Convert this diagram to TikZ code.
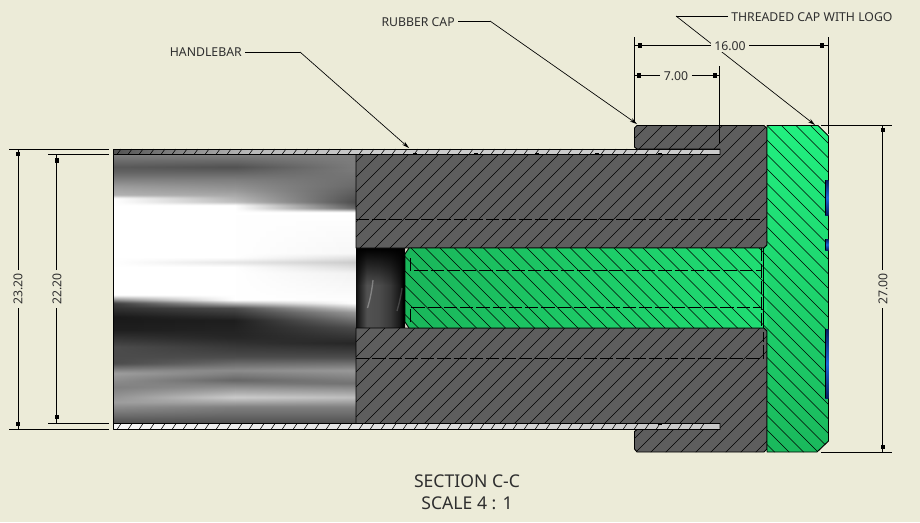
\documentclass[tikz,border=0pt]{standalone}
\usepackage{fontspec}
\setmainfont{Noto Sans}
\usetikzlibrary{arrows.meta,fadings}
\definecolor{bgc}{HTML}{ECEBD8}
\definecolor{dimc}{HTML}{2E2E2E}
\definecolor{darkc}{HTML}{5E5E5E}
\pgfdeclareverticalshading{boreL}{100bp}{gray(0bp)=(0.3);gray(25bp)=(0.3);gray(26.2bp)=(0.40);gray(29bp)=(0.62);gray(31.8bp)=(0.50);gray(34.4bp)=(0.62);gray(36.2bp)=(0.30);gray(39.2bp)=(0.30);gray(42.4bp)=(0.12);gray(44.8bp)=(0.10);gray(47.4bp)=(0.25);gray(48.9bp)=(1);gray(66.9bp)=(1);gray(67.5bp)=(0.70);gray(69bp)=(0.62);gray(71.6bp)=(0.40);gray(72.7bp)=(0.35);gray(75bp)=(0.50);gray(100bp)=(0.50)}
\pgfdeclareverticalshading{boreM}{100bp}{gray(0bp)=(0.3);gray(25bp)=(0.3);gray(25.65bp)=(0.35);gray(28.1bp)=(0.50);gray(29.9bp)=(0.80);gray(33.1bp)=(0.40);gray(34.9bp)=(0.55);gray(37.4bp)=(0.30);gray(41.1bp)=(0.15);gray(44.2bp)=(0.12);gray(46.5bp)=(0.30);gray(48bp)=(1);gray(54.1bp)=(1);gray(55bp)=(0.90);gray(55.9bp)=(1);gray(65.6bp)=(1);gray(66.2bp)=(0.75);gray(68.4bp)=(0.60);gray(70.3bp)=(0.50);gray(72.7bp)=(0.32);gray(75bp)=(0.50);gray(100bp)=(0.50)}
\pgfdeclareverticalshading{boreR}{100bp}{gray(0bp)=(0.3);gray(25bp)=(0.3);gray(25.65bp)=(0.35);gray(28.1bp)=(0.50);gray(29.9bp)=(0.75);gray(32.5bp)=(0.45);gray(34.9bp)=(0.60);gray(37.4bp)=(0.30);gray(40bp)=(0.15);gray(42.9bp)=(0.30);gray(45.7bp)=(0.60);gray(47.4bp)=(1);gray(53bp)=(0.95);gray(55bp)=(0.80);gray(56.7bp)=(0.97);gray(64.3bp)=(1);gray(65.05bp)=(0.40);gray(66.2bp)=(0.30);gray(67.5bp)=(0.35);gray(69.3bp)=(0.42);gray(72.1bp)=(0.48);gray(75bp)=(0.50);gray(100bp)=(0.50)}
\pgfdeclarehorizontalshading{recess}{100bp}{gray(0bp)=(0.06);gray(25bp)=(0.06);gray(36bp)=(0.32);gray(48bp)=(0.30);gray(60bp)=(0.22);gray(69bp)=(0.10);gray(73bp)=(0);gray(100bp)=(0)}
\pgfdeclareverticalshading{logoS}{100bp}{rgb(0bp)=(0.03,0.13,0.40);rgb(25bp)=(0.03,0.13,0.40);rgb(50bp)=(0.10,0.40,0.85);rgb(75bp)=(0.03,0.13,0.40);rgb(100bp)=(0.03,0.13,0.40)}
\tikzset{
  x=0.75pt,y=-0.75pt,
  dimline/.style={draw=black,line width=0.7pt},
  leader/.style={draw=black,line width=0.5pt},
  leadertip/.style={leader,-{Stealth[length=5.5pt,width=3pt]}},
  edge/.style={draw=black,line width=0.7pt,line join=round},
  hatchline/.style={draw=black,line width=0.42pt},
  dashline/.style={draw=black,line width=0.55pt,dash pattern=on 10pt off 2.2pt},
  lab/.style={text=dimc,font=\fontsize{9.2}{11}\selectfont,inner sep=0pt},
  dimlab/.style={lab,fill=bgc,inner xsep=2.5pt,inner ysep=1pt},
  title/.style={text=dimc,font=\fontsize{13.2}{15}\selectfont,inner sep=0pt},
}
\newcommand{\tickblock}[2]{\fill[black] (#1-2,#2-2.2) rectangle (#1+2,#2+2.2);}
\begin{document}
\begin{tikzpicture}
\useasboundingbox (0,0) rectangle (920,522);
\fill[bgc] (0,0) rectangle (920,522);
% bore of the handlebar
\path[shading=boreL] (113.5,154.5) rectangle (235,423.5);
\path[shading=boreM,path fading=west] (113.5,154.5) rectangle (235,423.5);
\path[shading=boreM] (235,154.5) rectangle (356,423.5);
\path[shading=boreR,path fading=west] (235,154.5) rectangle (356,423.5);
% handlebar walls
\path[left color=black!68,right color=black!20,middle color=black!28] (113.5,149) rectangle (380,154.5);
\fill[black!20] (380,149) rectangle (720,154.5);
\path[left color=black!3,right color=black!22] (113.5,423.5) rectangle (720,429.5);
\foreach \x in {117,128,...,710} {
  \draw[hatchline] (\x,154.5) -- (\x+4,149);
  \draw[hatchline] (\x,429.5) -- (\x+4,423.5);
}
\draw[edge] (113.5,154.5) -- (113.5,149) -- (720,149) -- (720,154.5) -- cycle;
\draw[edge] (113.5,423.5) -- (113.5,429.5) -- (720,429.5) -- (720,423.5) -- cycle;
\draw[edge] (113.5,154.5) -- (113.5,423.5);
\foreach \x in {415,476,537,597,660} {\draw[black,line width=0.9pt] (\x-2,154) -- (\x+2,154);}
\foreach \x in {660} {\draw[black,line width=0.9pt] (\x-2,424) -- (\x+2,424);}
% recess
\path[shading=recess] (356,248) rectangle (405,328);
\path[fill=black,path fading=south] (356,248) rectangle (405,285);
\draw[white,opacity=0.30,line width=1pt] (373,280) .. controls (372,290) and (370,300) .. (367.5,308);
\draw[white,opacity=0.18,line width=1pt] (402,288) .. controls (401,296) and (399,304) .. (397,311);
% rubber cap
\def\upperbody{(356,154.5) -- (720,154.5) -- (720,149) -- (637,149) -- (634.5,147) -- (634.5,128) -- (637,125.5) -- (764,125.5) -- (767,128.5) -- (767,245) -- (764,248) -- (356,248) -- cycle}
\def\lowerbody{(356,328) -- (764,328) -- (767,331) -- (767,449) -- (764,452) -- (637,452) -- (634.5,449) -- (634.5,431.5) -- (637,429.5) -- (720,429.5) -- (720,423.5) -- (356,423.5) -- cycle}
\fill[darkc] \upperbody;
\fill[darkc] \lowerbody;
\begin{scope}
\clip \upperbody;
\foreach \c in {488,503,...,1220} {\draw[hatchline] (\c-100,100) -- (\c-300,300);}
\end{scope}
\begin{scope}
\clip \lowerbody;
\foreach \c in {488,503,...,1220} {\draw[hatchline] (\c-320,320) -- (\c-460,460);}
\end{scope}
\draw[edge] \upperbody;
\draw[edge] \lowerbody;
% threaded cap
\def\capbody{(767,125.5) -- (818,125.5) -- (828.5,136) -- (828.5,441) -- (817,452) -- (767,452) -- cycle}
\def\corebody{(767,245) -- (764,248) -- (409,248) -- (405,254) -- (405,322) -- (409,328) -- (764,328) -- (767,331) -- cycle}
\path[shading=axis,top color={rgb,255:red,34;green,240;blue,128},bottom color={rgb,255:red,26;green,184;blue,92}] \capbody;
\path[shading=axis,left color={rgb,255:red,26;green,182;blue,90},right color={rgb,255:red,32;green,222;blue,116},shading angle=90] \corebody;
\begin{scope}
\clip (767,125.5) -- (818,125.5) -- (828.5,136) -- (828.5,441) -- (817,452) -- (767,452) -- (767,331) -- (764,328) -- (409,328) -- (405,322) -- (405,254) -- (409,248) -- (764,248) -- (767,245) -- cycle;
\foreach \c in {-40,-25.5,...,710} {\draw[hatchline] (\c+100,100) -- (\c+480,480);}
\end{scope}
\draw[edge] (767,125.5) -- (818,125.5) -- (828.5,136) -- (828.5,441) -- (817,452) -- (767,452) -- (767,331) -- (764,328) -- (409,328) -- (405,322) -- (405,254) -- (409,248) -- (764,248) -- (767,245) -- cycle;
\draw[black,line width=0.5pt] (763,248) -- (763,328);
% logo inlays
\foreach \ya/\yb in {180/215,239/250,329/398} {
  \path[shading=logoS] (825,\ya) rectangle (828.5,\yb);
  \draw[black,line width=0.6pt] (825,\ya) -- (825,\yb);
}
% hidden lines
\draw[dashline] (356,219) -- (763,219);
\draw[dashline] (356,358) -- (763,358) -- (763,332);
\draw[dashline] (410,258) -- (410,270) -- (761.5,270);
\draw[dashline] (410,322) -- (410,307) -- (761.5,307);
\draw[dashline] (761,248) -- (761,328);
% leaders
\node[lab,anchor=west] (threaded) at (731,17) {THREADED CAP WITH LOGO};
\coordinate (thA) at (676,16);
\coordinate (thT) at (815,125);
\draw[leader] (threaded.west |- thA) ++(-3,0) -- (thA);
\draw[leadertip] (thA) -- (thT);
\node[lab,anchor=east] (rubber) at (455,22) {RUBBER CAP};
\coordinate (ruA) at (490,21);
\coordinate (ruT) at (637,124);
\draw[leader] (rubber.east |- ruA) ++(3,0) -- (ruA);
\draw[leadertip] (ruA) -- (ruT);
\node[lab,anchor=east] (handle) at (242,52) {HANDLEBAR};
\coordinate (haA) at (300,52);
\coordinate (haT) at (409,148);
\draw[leader] (handle.east) ++(3,0) -- (haA);
\draw[leadertip] (haA) -- (haT);
% dimension 16.00
\coordinate (e1a) at (634.5,37); \coordinate (e1b) at (634.5,122);
\coordinate (e2a) at (828.5,37); \coordinate (e2b) at (828.5,134);
\coordinate (e3a) at (719.5,66); \coordinate (e3b) at (719.5,143);
\draw[dimline] (e1a) -- (e1b);
\draw[dimline] (e2a) -- (e2b);
\draw[dimline] (e3a) -- (e3b);
\node[dimlab] (d16) at (730,46) {16.00};
\coordinate (d16l) at (634.5,45.5); \coordinate (d16r) at (828.5,45.5);
\draw[dimline] (d16.west |- d16l) -- (d16l);
\draw[dimline] (d16.east |- d16r) -- (d16r);
\tickblock{640}{45.5}\tickblock{822}{45.5}
% dimension 7.00
\node[dimlab] (d7) at (676,76) {7.00};
\coordinate (d7l) at (634.5,75.5); \coordinate (d7r) at (719.5,75.5);
\draw[dimline] (d7.west |- d7l) -- (d7l);
\draw[dimline] (d7.east |- d7r) -- (d7r);
\tickblock{639}{75.5}\tickblock{715}{75.5}
% dimension 27.00
\coordinate (t1a) at (821,125.5); \coordinate (t1b) at (892,125.5);
\coordinate (t2a) at (821,452); \coordinate (t2b) at (892,452);
\draw[dimline] (t1a) -- (t1b);
\draw[dimline] (t2a) -- (t2b);
\node[dimlab,rotate=90] (d27) at (883,289) {27.00};
\coordinate (d27t) at (882.5,125.5); \coordinate (d27b) at (882.5,452);
\draw[dimline] (d27t |- d27.east) -- (d27t);
\draw[dimline] (d27b |- d27.west) -- (d27b);
\tickblock{882.5}{130}\tickblock{882.5}{447}
% dimension 23.20
\coordinate (a1a) at (9,149); \coordinate (a1b) at (109,149);
\coordinate (a2a) at (9,429.5); \coordinate (a2b) at (109,429.5);
\draw[dimline] (a1a) -- (a1b);
\draw[dimline] (a2a) -- (a2b);
\node[dimlab,rotate=90] (d232) at (18,289) {23.20};
\coordinate (d232t) at (18,149); \coordinate (d232b) at (18,429.5);
\draw[dimline] (d232t |- d232.east) -- (d232t);
\draw[dimline] (d232b |- d232.west) -- (d232b);
\tickblock{18}{154}\tickblock{18}{424}
% dimension 22.20
\coordinate (b1a) at (48,154.5); \coordinate (b1b) at (109,154.5);
\coordinate (b2a) at (48,423.5); \coordinate (b2b) at (109,423.5);
\draw[dimline] (b1a) -- (b1b);
\draw[dimline] (b2a) -- (b2b);
\node[dimlab,rotate=90] (d222) at (57,289) {22.20};
\coordinate (d222t) at (56.5,154.5); \coordinate (d222b) at (56.5,423.5);
\draw[dimline] (d222t |- d222.east) -- (d222t);
\draw[dimline] (d222b |- d222.west) -- (d222b);
\tickblock{56.5}{160.5}\tickblock{56.5}{417}
% title
\node[title] (sec) at (467,481) {SECTION C-C};
\node[title] (scl) at (467,503) {SCALE 4 : 1};
\end{tikzpicture}
\end{document}
